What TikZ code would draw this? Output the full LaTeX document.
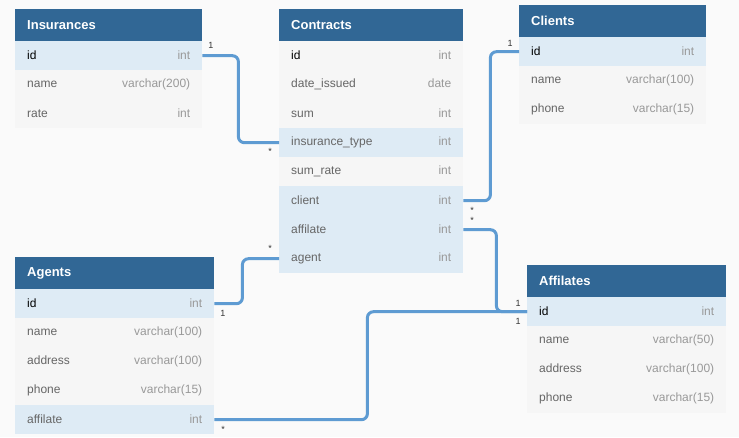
\documentclass[tikz,border=0pt]{standalone}
\usepackage{fontspec}
\setmainfont{Liberation Sans}
\definecolor{bgc}{RGB}{250,250,250}
\definecolor{headc}{RGB}{49,103,149}
\definecolor{rowc}{RGB}{246,246,246}
\definecolor{keyc}{RGB}{222,235,245}
\definecolor{namec}{RGB}{102,102,102}
\definecolor{typec}{RGB}{153,153,153}
\definecolor{linec}{RGB}{94,155,210}
\newcommand\ty[1]{\hfill\textcolor{typec}{#1}}
\newcommand\kf[1]{\textcolor{black}{#1}}
\begin{document}
\begin{tikzpicture}[x=1pt,y=-1pt,
  hdr/.style={anchor=north west, fill=headc, text=white, font=\fontsize{13}{15}\selectfont\bfseries, minimum height=32pt, inner xsep=12pt, inner ysep=0pt, align=left},
  row/.style={anchor=north west, fill=rowc, text=namec, font=\fontsize{12}{14}\selectfont, minimum height=29pt, inner xsep=12pt, inner ysep=0pt, align=left},
  keyrow/.style={row, fill=keyc},
  link/.style={draw=linec, line width=3pt, rounded corners=6pt},
  card/.style={font=\fontsize{9}{10}\selectfont, text=black!80, inner sep=0pt}]
\fill[bgc] (0,0) rectangle (739,437);
\useasboundingbox (0,0) rectangle (739,437);

% Insurances
\begin{scope}[every node/.append style={text width=163pt}]
\node[hdr] (ins-h) at (15,9) {Insurances};
\node[keyrow] (ins-id) at (15,41) {\kf{id}\ty{int}};
\node[row] (ins-name) at (15,70) {name\ty{varchar(200)}};
\node[row] (ins-rate) at (15,99) {rate\ty{int}};
\end{scope}

% Contracts
\begin{scope}[every node/.append style={text width=160pt}]
\node[hdr] (con-h) at (279,9) {Contracts};
\node[row] (con-id) at (279,41) {\kf{id}\ty{int}};
\node[row] (con-date) at (279,70) {date\_issued\ty{date}};
\node[row] (con-sum) at (279,99) {sum\ty{int}};
\node[keyrow] (con-ins) at (279,128) {insurance\_type\ty{int}};
\node[row] (con-rate) at (279,157) {sum\_rate\ty{int}};
\node[keyrow] (con-cli) at (279,186) {client\ty{int}};
\node[keyrow] (con-aff) at (279,215) {affilate\ty{int}};
\node[keyrow] (con-age) at (279,244) {agent\ty{int}};
\end{scope}

% Clients
\begin{scope}[every node/.append style={text width=163pt}]
\node[hdr] (cli-h) at (519,5) {Clients};
\node[keyrow] (cli-id) at (519,37) {\kf{id}\ty{int}};
\node[row] (cli-name) at (519,66) {name\ty{varchar(100)}};
\node[row] (cli-phone) at (519,95) {phone\ty{varchar(15)}};
\end{scope}

% Agents
\begin{scope}[every node/.append style={text width=175pt}]
\node[hdr] (age-h) at (15,257) {Agents};
\node[keyrow] (age-id) at (15,289) {\kf{id}\ty{int}};
\node[row] (age-name) at (15,318) {name\ty{varchar(100)}};
\node[row] (age-addr) at (15,347) {address\ty{varchar(100)}};
\node[row] (age-phone) at (15,376) {phone\ty{varchar(15)}};
\node[keyrow] (age-aff) at (15,405) {affilate\ty{int}};
\end{scope}

% Affilates
\begin{scope}[every node/.append style={text width=175pt}]
\node[hdr] (afi-h) at (527,265) {Affilates};
\node[keyrow] (afi-id) at (527,297) {\kf{id}\ty{int}};
\node[row] (afi-name) at (527,326) {name\ty{varchar(50)}};
\node[row] (afi-addr) at (527,355) {address\ty{varchar(100)}};
\node[row] (afi-phone) at (527,384) {phone\ty{varchar(15)}};
\end{scope}

% connectors
\draw[link] (ins-id.east) -- ++(36,0) |- (con-ins.west);
\draw[link] (con-cli.east) -- ++(27,0) |- (cli-id.west);
\draw[link] (con-aff.east) -- ++(33,0) |- (afi-id.west);
\draw[link] (age-id.east) -- ++(28,0) |- (con-age.west);
\draw[link] (age-aff.east) -- ++(153,0) |- (afi-id.west);

% cardinalities
\node[card] (k1a) at (211,45) {1};
\node[card] (k1b) at (270,151) {*};
\node[card] (k2a) at (510,43) {1};
\node[card] (k2b) at (472,210) {*};
\node[card] (k3a) at (472,220) {*};
\node[card] (k3b) at (518,303) {1};
\node[card] (k4a) at (223,313) {1};
\node[card] (k4b) at (270,248) {*};
\node[card] (k5a) at (223,429) {*};
\node[card] (k5b) at (518,321) {1};
\end{tikzpicture}
\end{document}
